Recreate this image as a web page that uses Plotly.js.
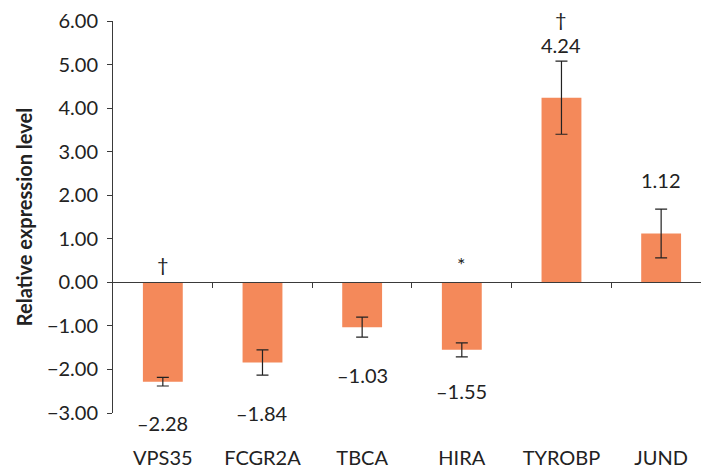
<!DOCTYPE html>
<html><head><meta charset="utf-8">
<script src="https://cdn.plot.ly/plotly-3.0.1.min.js"></script>
<style>html,body{margin:0;padding:0;background:#fff}</style>
</head><body><div id="chart" style="width:701px;height:470px"></div>
<script>
const genes = ['VPS35','FCGR2A','TBCA','HIRA','TYROBP','JUND'];
const values = [-2.28, -1.84, -1.03, -1.55, 4.24, 1.12];
const errors = [0.10, 0.29, 0.23, 0.16, 0.84, 0.56];
const marks = ['\u2020', '', '', '*', '\u2020', ''];
const yTicks = [-3, -2, -1, 0, 1, 2, 3, 4, 5, 6];

const font = 'Lato, "Open Sans", sans-serif';
const barColor = '#f4895a';
const axisColor = '#3a3a3a';
const labelGap = [37, 38, 38, 34, 16, 29];

const trace = {
  type: 'bar', x: genes.map((g, i) => i), y: values, width: 0.4,
  marker: {color: barColor, line: {width: 0}},
  error_y: {type: 'data', array: errors, visible: true, color: '#222', thickness: 1.2, width: 6},
  hoverinfo: 'skip', showlegend: false
};

const annotations = [];
values.forEach((v, i) => {
  const end = v < 0 ? v - errors[i] : v + errors[i];
  const shift = v < 0 ? -labelGap[i] : labelGap[i];
  annotations.push({x: i, y: end, xref: 'x', yref: 'y', text: v.toFixed(2).replace('-', '\u2013'),
    showarrow: false, yanchor: 'middle', yshift: shift, font: {family: font, size: 20, color: '#222'}});
  if (marks[i]) {
    const my = v < 0 ? 0 : end;
    const ms = v < 0 ? 18 : shift + 26;
    annotations.push({x: i, y: my, xref: 'x', yref: 'y', text: marks[i], showarrow: false,
      yanchor: 'middle', yshift: ms, font: {family: font, size: 20, color: '#222'}});
  }
});

const layout = {
  width: 701, height: 470,
  margin: {l: 113, r: 0, t: 21, b: 57},
  paper_bgcolor: '#fff', plot_bgcolor: '#fff',
  font: {family: font, color: '#222'},
  xaxis: {
    range: [-0.5, 5.4], tickvals: genes.map((g, i) => i), ticktext: genes,
    showline: false, zeroline: false, showgrid: false, ticks: '',
    ticklabelstandoff: 31, tickfont: {family: font, size: 20, color: '#222'}
  },
  xaxis2: {
    overlaying: 'x', matches: 'x', anchor: 'free', position: 1/3,
    range: [-0.5, 5.4], tickvals: [0.5, 1.5, 2.5, 3.5, 4.5, 5.5],
    showticklabels: false, showline: true, linecolor: axisColor, linewidth: 1,
    ticks: 'outside', ticklen: 5, tickcolor: axisColor, tickwidth: 1,
    zeroline: false, showgrid: false
  },
  yaxis: {
    range: [-3, 6], tickvals: yTicks, tickformat: '.2f',
    showline: true, linecolor: axisColor, linewidth: 1,
    ticks: 'outside', ticklen: 5, tickcolor: axisColor,
    zeroline: false, showgrid: false, ticklabelstandoff: 5,
    tickfont: {family: font, size: 20, color: '#222'},
    title: {text: '<b>Relative expression level</b>', font: {family: font, size: 20, color: '#222'}, standoff: 8}
  },
  annotations: annotations
};

const t2 = {type: 'scatter', x: [0], y: [0], xaxis: 'x2', mode: 'markers', marker: {opacity: 0}, hoverinfo: 'skip', showlegend: false};
Plotly.newPlot('chart', [trace, t2], layout, {staticPlot: true});
</script></body></html>
